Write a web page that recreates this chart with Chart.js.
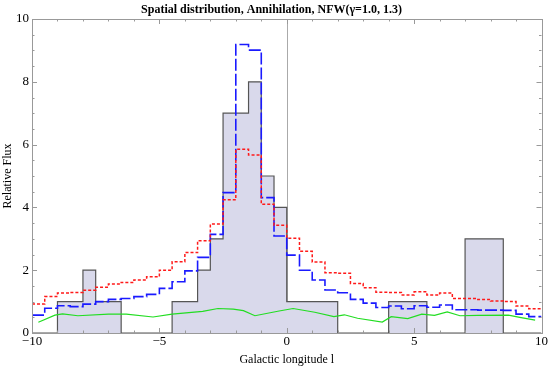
<!DOCTYPE html>
<html>
<head>
<meta charset="utf-8">
<script src="https://cdn.jsdelivr.net/npm/chart.js@4.4.1/dist/chart.umd.min.js"></script>
<style>
  html, body { margin: 0; padding: 0; background: #fff; }
  #wrap { width: 549px; height: 369px; }
</style>
</head>
<body>
<div id="wrap"><canvas id="chart" width="549" height="369"></canvas></div>
<script>
// histogram (observed counts), bin edges and heights
const histEdges  = [-10, -9, -8, -7.5, -6.5, -4.5, -3.5, -3, -2.5, -1.5, -1, -0.5, 0, 2, 4, 5.5, 7, 8.5, 10];
const histValues = [0, 1, 2, 1, 0, 1, 2, 3, 7, 8, 5, 4, 1, 0, 1, 0, 3, 0, 0];

// model curves, binned in 0.5 deg steps (left edges)
const binStarts = [-10, -9.5, -9, -8.5, -8, -7.5, -7, -6.5, -6, -5.5, -5, -4.5, -4, -3.5, -3, -2.5, -2, -1.5, -1, -0.5,
                   0, 0.5, 1, 1.5, 2, 2.5, 3, 3.5, 4, 4.5, 5, 5.5, 6, 6.5, 7, 7.5, 8, 8.5, 9, 9.5];
const blueValues = [0.57, 0.79, 0.87, 0.84, 0.92, 1.0, 1.07, 1.1, 1.16, 1.23, 1.42, 1.63, 1.98, 2.41, 3.14, 4.47, 9.19, 9.01, 4.31, 3.09,
                    2.48, 2.0, 1.69, 1.37, 1.28, 1.07, 0.95, 0.81, 0.86, 0.77, 0.87, 0.82, 0.89, 0.74, 0.74, 0.73, 0.73, 0.72, 0.6, 0.52];
const redValues  = [0.92, 1.16, 1.27, 1.29, 1.36, 1.46, 1.56, 1.61, 1.69, 1.79, 2.0, 2.27, 2.56, 2.94, 3.47, 4.24, 5.85, 5.67, 4.1, 3.43,
                    3.02, 2.6, 2.26, 1.92, 1.9, 1.58, 1.44, 1.3, 1.29, 1.21, 1.31, 1.21, 1.27, 1.1, 1.1, 1.07, 1.02, 1.0, 0.86, 0.77];

// background curve
const greenX = [-9.75, -9.1, -8.8, -8.2, -7.0, -6.3, -5.25, -4.5, -3.3, -2.7, -2.1, -1.7, -1.25, -0.3, 0.25,
                1.1, 1.85, 2.26, 2.78, 3.75, 4.1, 4.75, 5.3, 5.8, 6.3, 6.8, 7.5, 8.7, 9.2, 9.75];
const greenY = [0.34, 0.57, 0.61, 0.55, 0.6, 0.6, 0.51, 0.6, 0.69, 0.78, 0.76, 0.71, 0.55, 0.7, 0.78,
                0.66, 0.52, 0.58, 0.47, 0.35, 0.52, 0.46, 0.6, 0.56, 0.67, 0.55, 0.56, 0.57, 0.49, 0.41];

const xTickLabels = [-10, -5, 0, 5, 10];
const yTickLabels = [0, 2, 4, 6, 8, 10];

const serif = '"Liberation Serif", "DejaVu Serif", serif';

function stepPoints(xs, ys) {
  const pts = xs.map((x, i) => ({ x: x, y: ys[i] }));
  pts.push({ x: 10, y: ys[ys.length - 1] });
  return pts;
}

// frame, inward ticks and the l=0 line
const framePlugin = {
  id: 'frame',
  beforeDatasetsDraw(chart) {
    const { ctx, chartArea: a, scales: { x } } = chart;
    const px = Math.round(x.getPixelForValue(0)) + 0.5;
    ctx.save();
    ctx.strokeStyle = '#aaaaaa';
    ctx.lineWidth = 1;
    ctx.beginPath();
    ctx.moveTo(px, a.top);
    ctx.lineTo(px, a.bottom);
    ctx.stroke();
    ctx.restore();
  },
  afterDraw(chart) {
    const { ctx, chartArea: a, scales: { x, y } } = chart;
    ctx.save();
    ctx.strokeStyle = '#999999';
    ctx.lineWidth = 1;
    ctx.strokeRect(Math.round(a.left) + 0.5, Math.round(a.top) + 0.5,
                   Math.round(a.right - a.left), Math.round(a.bottom - a.top));
    ctx.beginPath();
    for (let v = -10; v <= 10; v += 1) {
      const p = Math.round(x.getPixelForValue(v)) + 0.5;
      const len = v % 5 === 0 ? 5 : 2.5;
      ctx.moveTo(p, a.bottom); ctx.lineTo(p, a.bottom - len);
      ctx.moveTo(p, a.top); ctx.lineTo(p, a.top + len);
    }
    for (let v = 0; v <= 10; v += 0.5) {
      const p = Math.round(y.getPixelForValue(v)) + 0.5;
      const len = v % 2 === 0 ? 5 : 2.5;
      ctx.moveTo(a.left, p); ctx.lineTo(a.left + len, p);
      ctx.moveTo(a.right, p); ctx.lineTo(a.right - len, p);
    }
    ctx.stroke();
    ctx.restore();
  }
};

new Chart(document.getElementById('chart'), {
  type: 'line',
  data: {
    datasets: [
      {
        label: 'NFW 1.3',
        data: stepPoints(binStarts, redValues),
        stepped: true,
        borderColor: '#ff1a1a',
        borderWidth: 1.5,
        borderDash: [3, 2],
        pointRadius: 0,
        fill: false,
        order: 1
      },
      {
        label: 'NFW 1.0',
        data: stepPoints(binStarts, blueValues),
        stepped: true,
        borderColor: '#1a1aff',
        borderWidth: 1.6,
        borderDash: [12, 3],
        pointRadius: 0,
        fill: false,
        order: 2
      },
      {
        label: 'background',
        data: greenX.map((x, i) => ({ x: x, y: greenY[i] })),
        borderColor: '#22dd22',
        borderWidth: 1.2,
        pointRadius: 0,
        tension: 0,
        fill: false,
        order: 3
      },
      {
        label: 'data',
        data: histEdges.map((x, i) => ({ x: x, y: histValues[i] })),
        stepped: true,
        borderColor: '#555555',
        borderWidth: 1.2,
        backgroundColor: '#d9d9eb',
        pointRadius: 0,
        fill: 'origin',
        order: 4
      }
    ]
  },
  options: {
    responsive: false,
    animation: false,
    events: [],
    layout: { padding: { left: 0, right: 6, top: 0, bottom: 0 } },
    plugins: {
      legend: { display: false },
      tooltip: { enabled: false },
      title: {
        display: true,
        text: 'Spatial distribution, Annihilation, NFW(\u03b3=1.0, 1.3)',
        color: '#000',
        font: { family: serif, size: 12, weight: 'bold' },
        padding: { top: 3, bottom: 1.6 }
      }
    },
    scales: {
      x: {
        type: 'linear',
        min: -10,
        max: 10,
        afterBuildTicks: s => { s.ticks = xTickLabels.map(v => ({ value: v })); },
        afterFit: s => { s.height = 36; },
        grid: { display: false, drawTicks: false },
        border: { display: false },
        ticks: {
          padding: 1,
          color: '#000',
          font: { family: serif, size: 13 },
          callback: v => String(v).replace('-', '\u2212')
        },
        title: {
          display: true,
          text: 'Galactic longitude l',
          color: '#000',
          font: { family: serif, size: 12 },
          padding: { top: 0, bottom: 2 }
        }
      },
      y: {
        min: 0,
        max: 10,
        afterBuildTicks: s => { s.ticks = yTickLabels.map(v => ({ value: v })); },
        afterFit: s => { s.width = 32; },
        grid: { display: false, drawTicks: false },
        border: { display: false },
        ticks: {
          padding: 3,
          color: '#000',
          font: { family: serif, size: 13 }
        },
        title: {
          display: true,
          text: 'Relative Flux',
          color: '#000',
          font: { family: serif, size: 12 },
          padding: { top: 1, bottom: 0 }
        }
      }
    }
  },
  plugins: [framePlugin]
});
</script>
</body>
</html>
